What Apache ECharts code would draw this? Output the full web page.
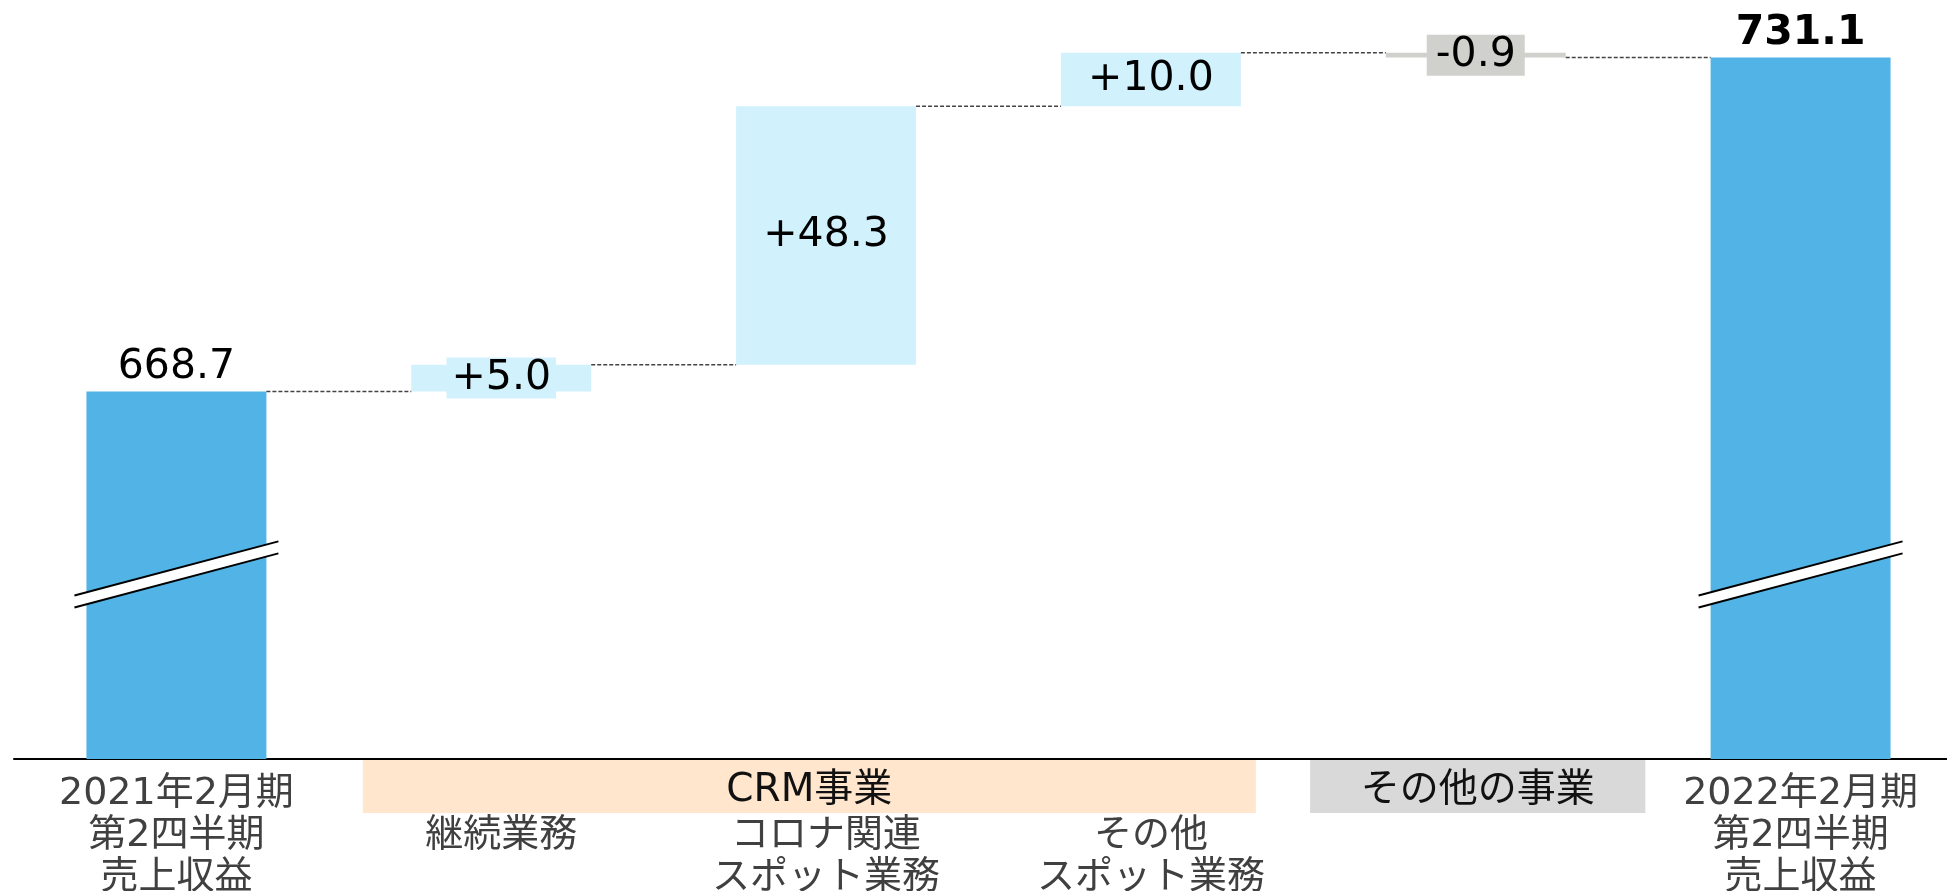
<!DOCTYPE html>
<html>
<head>
<meta charset="utf-8">
<script src="https://cdn.jsdelivr.net/npm/echarts@6/dist/echarts.min.js"></script>
<style>
html,body{margin:0;padding:0;background:#fff;}
#chart{width:1947px;height:891px;}
</style>
</head>
<body>
<div id="chart"></div>
<script>
// ---- data ----
const categories = [
  '2021年2月期\n第2四半期\n売上収益',
  '\n継続業務',
  '\nコロナ関連\nスポット業務',
  '\nその他\nスポット業務',
  '',
  '2022年2月期\n第2四半期\n売上収益'
];
const deltas = [668.7, 5.0, 48.3, 10.0, -0.9, 731.1];
const isTotal = [true, false, false, false, false, true];
const valueLabels = ['668.7', '+5.0', '+48.3', '+10.0', '-0.9', '731.1'];
const groupNames = ['CRM事業', 'その他の事業'];
const yMin = 600;
const yMax = 740;
const breakLevel = 634.5;

(function () {
// ---- derived ----
const FONT = "'DejaVu Sans','Noto Sans CJK JP',sans-serif";
const COL_TOTAL = '#52B4E6', COL_POS = '#D1F1FD', COL_NEG = '#D0D1CC';
const base = [], height = [], levels = [];
let running = 0;
deltas.forEach((v, i) => {
  if (isTotal[i]) { base.push(0); height.push(v); running = v; }
  else if (v >= 0) { base.push(running); height.push(v); running += v; }
  else { running += v; base.push(running); height.push(-v); }
  levels.push(+running.toFixed(2));
});
const barFrac = 0.554;

const valueData = height.map((h, i) => {
  const last = i === deltas.length - 1;
  const color = isTotal[i] ? COL_TOTAL : (deltas[i] >= 0 ? COL_POS : COL_NEG);
  const item = { value: h, itemStyle: { color: color } };
  if (isTotal[i]) {
    item.label = { position: 'top', distance: 4, fontWeight: last ? 'bold' : 'normal' };
  } else {
    item.label = { position: 'inside', backgroundColor: color,
      padding: deltas[i] >= 0 ? [0, 5] : [0, 9] };
  }
  return item;
});

const chart = echarts.init(document.getElementById('chart'), null, { renderer: 'canvas' });
chart.setOption({
  animation: false,
  backgroundColor: '#fff',
  grid: { left: 14, right: -16, top: 10, bottom: 132, containLabel: false, outerBoundsMode: 'none' },
  xAxis: {
    type: 'category',
    data: categories,
    axisLine: { lineStyle: { color: '#000', width: 2 } },
    axisTick: { show: false },
    axisLabel: { interval: 0, fontSize: 38, lineHeight: 42, color: '#404040',
      fontFamily: FONT, margin: 14, verticalAlign: 'top', hideOverlap: false }
  },
  yAxis: {
    type: 'value', min: yMin, max: yMax,
    show: false, splitLine: { show: false }
  },
  series: [
    {
      type: 'bar', stack: 'w', barWidth: (barFrac * 100) + '%',
      itemStyle: { color: 'transparent' }, data: base, silent: true, z: 2
    },
    {
      type: 'bar', stack: 'w', barWidth: (barFrac * 100) + '%',
      data: valueData, z: 3,
      label: {
        show: true, fontSize: 41, lineHeight: 41, color: '#000', fontFamily: FONT,
        formatter: p => valueLabels[p.dataIndex]
      }
    },
    {
      type: 'custom', z: 4, silent: true,
      data: levels.slice(0, levels.length - 1).map((l, i) => [i, l]),
      renderItem: function (params, api) {
        const p = api.coord([api.value(0), api.value(1)]);
        const w = api.size([1, 0])[0];
        const half = w * barFrac / 2;
        return {
          type: 'line',
          shape: { x1: p[0] + half, y1: p[1], x2: p[0] + w - half, y2: p[1] },
          style: { stroke: '#444', lineWidth: 1.5, lineDash: [4, 2] }
        };
      }
    },
    {
      type: 'custom', z: 6, silent: true,
      data: isTotal.map((t, i) => t ? [i, breakLevel] : null).filter(d => d),
      renderItem: function (params, api) {
        const p = api.coord([api.value(0), api.value(1)]);
        const w = api.size([1, 0])[0];
        const hw = w * 0.314, s = 0.265, g = 6;
        const a = [p[0] - hw, p[1] - g + hw * s], b = [p[0] + hw, p[1] - g - hw * s];
        const c = [p[0] + hw, p[1] + g - hw * s], d = [p[0] - hw, p[1] + g + hw * s];
        return {
          type: 'group',
          children: [
            { type: 'polygon', shape: { points: [a, b, c, d] }, style: { fill: '#fff' } },
            { type: 'line', shape: { x1: a[0], y1: a[1], x2: b[0], y2: b[1] }, style: { stroke: '#000', lineWidth: 2 } },
            { type: 'line', shape: { x1: d[0], y1: d[1], x2: c[0], y2: c[1] }, style: { stroke: '#000', lineWidth: 2 } }
          ]
        };
      }
    }
  ]
});

// group bands under the axis
const cx = i => chart.convertToPixel({ xAxisIndex: 0 }, i);
const axisY = chart.convertToPixel({ yAxisIndex: 0 }, yMin);
const cw = cx(1) - cx(0);
const bands = [
  { name: groupNames[0], l: cx(1) - 0.426 * cw, r: cx(3) + 0.323 * cw, fill: '#FFE6CC' },
  { name: groupNames[1], l: cx(4) - 0.51 * cw, r: cx(4) + 0.522 * cw, fill: '#D9D9D9' }
];
const bandTop = axisY + 1, bh = 53;
const graphic = [];
bands.forEach(b => {
  graphic.push({ type: 'rect', z: 0, shape: { x: b.l, y: bandTop, width: b.r - b.l, height: bh }, style: { fill: b.fill } });
  graphic.push({ type: 'text', z: 1, x: (b.l + b.r) / 2, y: bandTop + 31,
    style: { text: b.name, fontSize: 39, fontFamily: FONT, fill: '#111', align: 'center', verticalAlign: 'middle' } });
});
chart.setOption({ graphic: graphic });
})();
</script>
</body>
</html>
